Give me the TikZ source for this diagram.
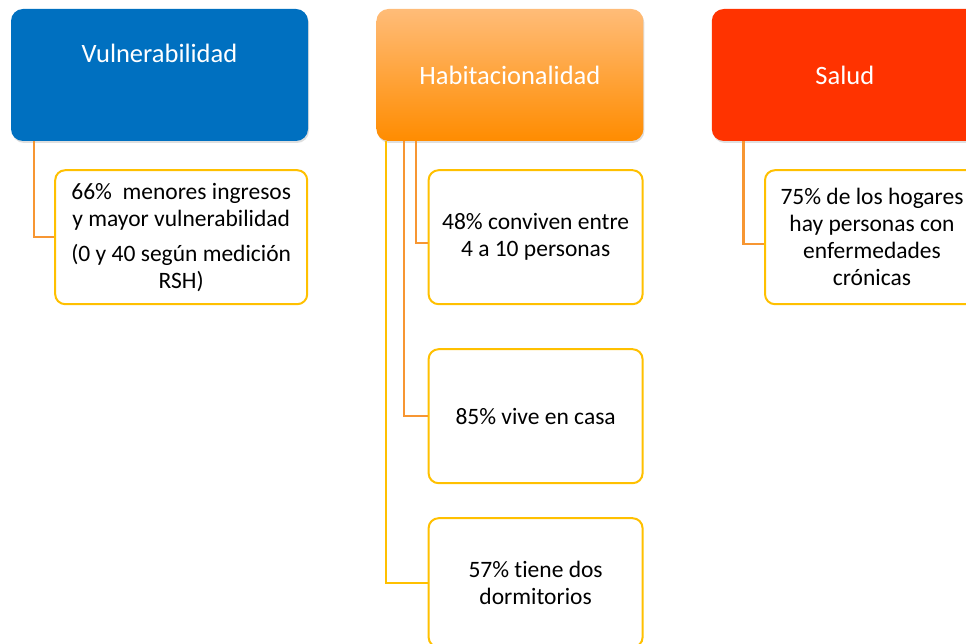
\documentclass[tikz,border=0pt]{standalone}
\usepackage{fontspec}
\setmainfont{Carlito}[Ligatures=NoCommon]
\usetikzlibrary{positioning, chains, shadows}

\definecolor{vulblue}{RGB}{0,112,192}
\definecolor{habtop}{RGB}{255,188,120}
\definecolor{habbot}{RGB}{255,140,0}
\definecolor{salred}{RGB}{255,51,0}
\definecolor{boxline}{RGB}{255,192,0}
\definecolor{linkorange}{RGB}{247,150,50}

\begin{document}
\begin{tikzpicture}[x=1pt, y=-1pt,
   start chain = going right,
   node distance = 68pt,
   head/.style = {rounded corners=12pt, minimum height=132pt, text=white,
      font=\fontsize{26.5}{30}\selectfont,
      drop shadow={opacity=0.25, shadow xshift=1pt, shadow yshift=-2pt}},
   item/.style = {draw=boxline, line width=2pt, rounded corners=10pt, fill=white,
      minimum width=214pt, minimum height=134pt, align=center,
      font=\fontsize{23.5}{27}\selectfont},
   link/.style = {draw=linkorange, line width=2.3pt}]
   \useasboundingbox (0,0) rectangle (966,644);
   \clip (0,0) rectangle (966,644);

   % headers
   \node[head, on chain, fill=vulblue, minimum width=297pt, text depth=44pt] at (159.5,75) (vul) {Vulnerabilidad};
   \node[head, on chain, top color=habtop, bottom color=habbot, minimum width=267pt] (hab) {Habitacionalidad};
   \node[head, on chain, fill=salred, minimum width=266pt] (sal) {Salud};

   % items
   \node[item, minimum width=252pt, below=28pt of vul.south east, anchor=north east] (v1)
      {66\%\ \ menores ingresos\\y mayor vulnerabilidad\\[8pt](0 y 40 según medición\\RSH)};
   \node[item, below=28pt of hab.south east, anchor=north east] (h1) {48\% conviven entre\\4 a 10 personas};
   \node[item, below=43pt of h1] (h2) {85\% vive en casa};
   \node[item, minimum height=129pt, below=33pt of h2] (h3) {57\% tiene dos\\dormitorios};
   \node[item, below=28pt of sal.south east, anchor=north east, xshift=2pt] (s1)
      {75\% de los hogares\\hay personas con\\enfermedades\\crónicas};

   % links
   \draw[link] ([xshift=23pt]vul.south west) |- (v1.west);
   \draw[link, draw=boxline] ([xshift=10pt]hab.south west) |- (h3.west);
   \draw[link] ([xshift=28pt]hab.south west) |- (h2.west);
   \draw[link] ([xshift=40pt]hab.south west) |- ([yshift=-6pt]h1.west);
   \draw[link] ([xshift=32pt]sal.south west) |- ([yshift=-7pt]s1.west);
\end{tikzpicture}
\end{document}
